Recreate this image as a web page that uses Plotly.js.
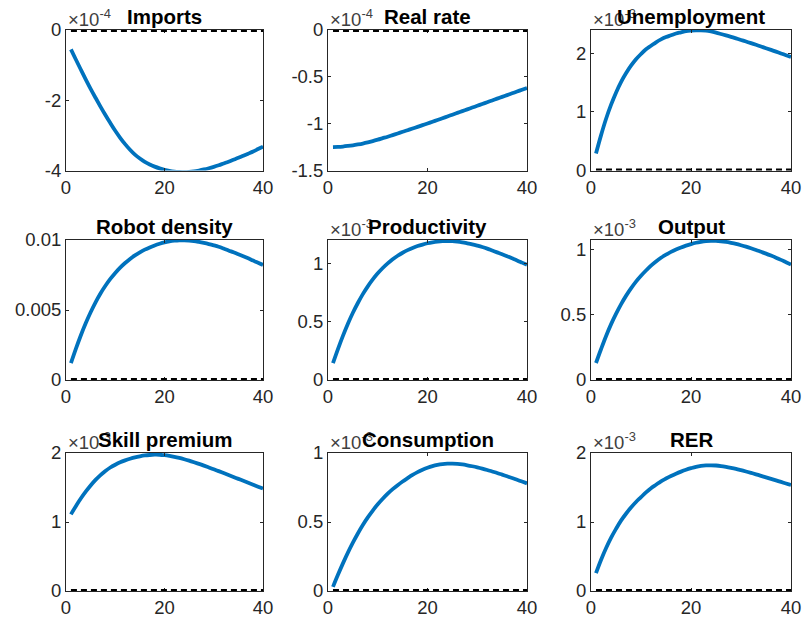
<!DOCTYPE html>
<html><head><meta charset="utf-8">
<script src="https://cdn.plot.ly/plotly-3.0.1.min.js"></script>
<style>html,body{margin:0;padding:0;background:#fff}#chart{width:802px;height:620px}</style>
</head><body><div id="chart"></div>
<script>
const periods = [1,2,3,4,5,6,7,8,9,10,11,12,13,14,15,16,17,18,19,20,21,22,23,24,25,26,27,28,29,30,31,32,33,34,35,36,37,38,39,40];

// values in displayed units (multiply by the panel exponent)
const imports = [-0.55,-0.84,-1.125,-1.405,-1.675,-1.93,-2.18,-2.42,-2.65,-2.87,-3.07,-3.25,-3.41,-3.55,-3.66,-3.755,-3.83,-3.89,-3.94,-3.98,-4.01,-4.03,-4.04,-4.045,-4.04,-4.025,-4.00,-3.97,-3.935,-3.895,-3.85,-3.80,-3.75,-3.695,-3.64,-3.58,-3.52,-3.46,-3.39,-3.32];
const realRate = [-1.250,-1.248,-1.244,-1.238,-1.231,-1.222,-1.212,-1.200,-1.186,-1.171,-1.155,-1.139,-1.122,-1.105,-1.087,-1.070,-1.052,-1.034,-1.016,-0.998,-0.979,-0.961,-0.942,-0.923,-0.904,-0.885,-0.866,-0.847,-0.828,-0.809,-0.790,-0.771,-0.752,-0.733,-0.714,-0.695,-0.676,-0.657,-0.638,-0.619];
const unemployment = [0.29,0.60,0.88,1.12,1.33,1.51,1.66,1.79,1.90,1.99,2.07,2.13,2.19,2.24,2.28,2.31,2.34,2.36,2.38,2.39,2.395,2.395,2.39,2.375,2.355,2.332,2.308,2.283,2.257,2.23,2.203,2.175,2.147,2.118,2.089,2.06,2.03,2.0,1.97,1.94];
const robotDensity = [0.00120,0.00222,0.00318,0.00405,0.00484,0.00555,0.00618,0.00673,0.00722,0.00765,0.00803,0.00836,0.00865,0.00890,0.00912,0.00931,0.00947,0.00961,0.00973,0.00983,0.00990,0.00995,0.00998,0.00998,0.00996,0.00992,0.00986,0.00979,0.00971,0.00962,0.00952,0.00939,0.00925,0.00912,0.00898,0.00884,0.00869,0.00853,0.00838,0.00822];
const productivity = [0.145,0.265,0.378,0.482,0.576,0.660,0.736,0.803,0.862,0.914,0.960,1.000,1.035,1.065,1.091,1.113,1.132,1.148,1.161,1.172,1.180,1.186,1.190,1.191,1.190,1.186,1.180,1.172,1.163,1.152,1.140,1.126,1.110,1.094,1.078,1.061,1.043,1.025,1.006,0.987];
const output = [0.13,0.235,0.335,0.425,0.505,0.578,0.643,0.700,0.752,0.797,0.837,0.874,0.906,0.934,0.958,0.979,0.997,1.013,1.027,1.039,1.049,1.056,1.061,1.063,1.063,1.060,1.055,1.048,1.040,1.030,1.019,1.007,0.994,0.980,0.966,0.951,0.935,0.918,0.900,0.882];
const skillPremium = [1.11,1.23,1.34,1.44,1.53,1.61,1.68,1.74,1.79,1.83,1.865,1.893,1.917,1.937,1.952,1.964,1.971,1.975,1.974,1.968,1.958,1.945,1.929,1.910,1.889,1.866,1.842,1.817,1.791,1.764,1.737,1.709,1.681,1.653,1.625,1.597,1.569,1.541,1.512,1.484];
const consumption = [0.03,0.117,0.200,0.278,0.350,0.417,0.478,0.533,0.583,0.628,0.668,0.705,0.738,0.767,0.794,0.818,0.841,0.861,0.878,0.893,0.905,0.914,0.920,0.923,0.923,0.921,0.917,0.911,0.904,0.896,0.887,0.877,0.866,0.855,0.843,0.831,0.819,0.806,0.793,0.780];
const rer = [0.26,0.45,0.62,0.77,0.90,1.02,1.12,1.21,1.29,1.36,1.43,1.49,1.54,1.59,1.63,1.667,1.70,1.73,1.757,1.78,1.80,1.813,1.82,1.822,1.819,1.811,1.799,1.785,1.769,1.751,1.732,1.712,1.691,1.669,1.647,1.625,1.603,1.581,1.558,1.536];

const panelTitles = ['Imports','Real rate','Unemployment','Robot density','Productivity','Output','Skill premium','Consumption','RER'];
const panelSeries = [imports, realRate, unemployment, robotDensity, productivity, output, skillPremium, consumption, rer];
const panelExponents = ['-4','-4','-3','','-3','-3','-3','-3','-3'];
const panelRanges = [[-4,0],[-1.5,0],[0,2.4],[0,0.01],[0,1.2],[0,1.07],[0,2],[0,1],[0,2]];
const panelTickVals = [[-4,-2,0],[-1.5,-1,-0.5,0],[0,1,2],[0,0.005,0.01],[0,0.5,1],[0,0.5,1],[0,1,2],[0,0.5,1],[0,1,2]];
const panelTickText = [['-4','-2','0'],['-1.5','-1','-0.5','0'],['0','1','2'],['0','0.005','0.01'],['0','0.5','1'],['0','0.5','1'],['0','1','2'],['0','0.5','1'],['0','1','2']];
const xTickVals = [0,20,40];
const xTickText = ['0','20','40'];
const zeroLevel = 0;

const colDomains = [[66/802,263/802],[328/802,527/802],[591/802,791/802]];
const rowDomains = [[1-170.5/620,1-30/620],[1-380/620,1-240/620],[1-591/620,1-453/620]];

const FONT = '"Liberation Sans", Arial, Helvetica, sans-serif';
const AX = '#262626';
const traces = [];
const layout = {
  width: 802, height: 620,
  margin: {l:0, r:0, t:0, b:0},
  paper_bgcolor: '#ffffff', plot_bgcolor: '#ffffff',
  showlegend: false,
  font: {family: FONT, size: 18.5, color: AX},
  annotations: [], shapes: []
};

for (let i = 0; i < 9; i++) {
  const r = Math.floor(i/3), c = i % 3;
  const k = i === 0 ? '' : String(i+1);
  const xa = 'x' + k, ya = 'y' + k;
  traces.push({
    x: periods, y: panelSeries[i], xaxis: xa, yaxis: ya,
    type: 'scatter', mode: 'lines',
    line: {color: '#0072BD', width: 3.8, shape: 'spline', smoothing: 1}, hoverinfo: 'skip'
  });
  const common = {
    showline: true, linecolor: AX, linewidth: 1, mirror: 'ticks',
    ticks: 'inside', ticklen: 3, tickcolor: AX, tickwidth: 1,
    showgrid: false, zeroline: false, fixedrange: true,
    tickfont: {family: FONT, size: 18.5, color: AX}
  };
  layout['xaxis' + k] = Object.assign({}, common, {
    domain: colDomains[c], anchor: ya, range: [0,40],
    tickmode: 'array', tickvals: xTickVals, ticktext: xTickText
  });
  layout['yaxis' + k] = Object.assign({}, common, {
    domain: rowDomains[r], anchor: xa, range: panelRanges[i],
    tickmode: 'array', tickvals: panelTickVals[i], ticktext: panelTickText[i]
  });
  layout.shapes.push({
    type: 'line', xref: xa, yref: ya, x0: periods[0], x1: periods[periods.length-1],
    y0: zeroLevel, y1: zeroLevel, layer: 'above',
    line: {color: '#000000', width: 4, dash: '6px,4px'}
  });
  if (panelExponents[i]) {
    layout.annotations.push({
      xref: 'paper', yref: 'paper', x: colDomains[c][0], y: rowDomains[r][1],
      xanchor: 'left', yanchor: 'bottom', xshift: 0, yshift: -2, showarrow: false,
      text: '\u00d710<sup>' + panelExponents[i] + '</sup>',
      font: {family: FONT, size: 18.5, color: '#404040'}
    });
  }
  layout.annotations.push({
    xref: 'paper', yref: 'paper', x: (colDomains[c][0]+colDomains[c][1])/2, y: rowDomains[r][1],
    xanchor: 'center', yanchor: 'bottom', yshift: 0, showarrow: false,
    text: '<b>' + panelTitles[i] + '</b>',
    font: {family: FONT, size: 20.5, color: '#000000'}
  });
}

Plotly.newPlot('chart', traces, layout, {staticPlot: true, displayModeBar: false});
</script>
</body></html>
